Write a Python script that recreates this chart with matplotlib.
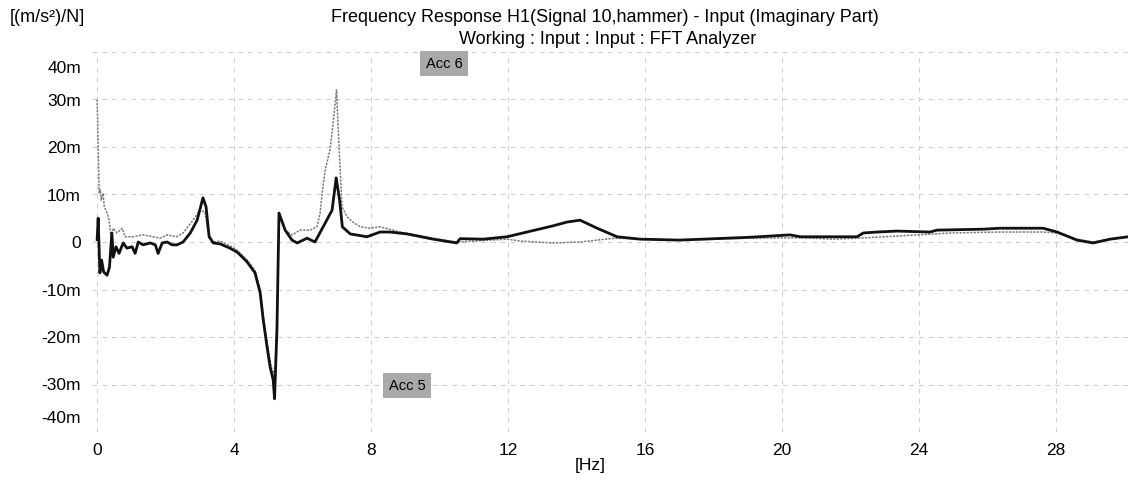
import matplotlib.pyplot as plt
from matplotlib.ticker import FuncFormatter
from matplotlib.transforms import ScaledTranslation

plt.rcParams['font.family'] = ['Liberation Sans', 'DejaVu Sans']

# Acc 5 (thick black) - frequency [Hz], imaginary part [m(m/s^2)/N]
acc5_freq = [0.0, 0.03, 0.08, 0.13, 0.19, 0.29, 0.36, 0.43, 0.47, 0.55, 0.64, 0.76, 0.87,
             1.02, 1.11, 1.2, 1.34, 1.55, 1.7, 1.78, 1.9, 2.04, 2.19, 2.33, 2.51, 2.72,
             2.92, 3.09, 3.18, 3.27, 3.39, 3.59, 3.88, 4.1, 4.38, 4.61, 4.76, 4.85, 4.96,
             5.05, 5.14, 5.18, 5.25, 5.31, 5.49, 5.69, 5.84, 6.13, 6.36, 6.6, 6.86, 6.98,
             7.08, 7.16, 7.39, 7.88, 8.26, 8.55, 9.05, 9.81, 10.5, 10.6, 11.27, 11.97,
             12.55, 13.31, 13.72, 14.1, 14.6, 15.18, 15.85, 17.0, 19.07, 20.23, 20.53,
             22.19, 22.37, 22.77, 23.36, 24.32, 24.52, 25.87, 26.36, 27.62, 28.03, 28.61,
             29.08, 29.58, 30.1]
acc5_val = [0.5, 5.0, -6.5, -3.8, -6.3, -7.0, -5.3, 1.9, -3.2, -1.0, -2.4, -0.2, -1.3,
            -1.0, -2.4, 0.0, -0.6, -0.2, -0.6, -2.4, -0.2, 0.0, -0.6, -0.6, 0.0, 1.9,
            4.6, 9.3, 7.4, 1.1, -0.2, -0.4, -1.3, -2.2, -4.2, -6.5, -10.7, -16.4, -22.0,
            -26.3, -29.0, -33.0, -18.5, 6.1, 2.5, 0.4, -0.2, 0.8, 0.0, 3.2, 6.7, 13.5,
            8.8, 3.2, 1.7, 1.1, 2.1, 2.1, 1.7, 0.6, -0.2, 0.7, 0.6, 1.1,
            2.1, 3.4, 4.2, 4.6, 2.9, 1.1, 0.6, 0.4, 1.0, 1.5, 1.1,
            1.1, 1.9, 2.1, 2.3, 2.1, 2.5, 2.7, 2.9, 2.9, 2.1, 0.4,
            -0.2, 0.6, 1.1]

# Acc 6 (thin grey)
acc6_freq = [0.0, 0.03, 0.06, 0.09, 0.12, 0.17, 0.21, 0.29, 0.35, 0.41, 0.47, 0.58, 0.73,
             0.82, 1.05, 1.34, 1.64, 1.84, 2.04, 2.33, 2.51, 2.8, 3.0, 3.15, 3.24, 3.39,
             3.59, 3.88, 4.1, 4.38, 4.61, 4.76, 4.85, 4.96, 5.05, 5.14, 5.2, 5.26, 5.31,
             5.49, 5.69, 5.93, 6.22, 6.42, 6.51, 6.58, 6.66, 6.8, 6.9, 6.99, 7.04, 7.15,
             7.3, 7.47, 7.68, 7.97, 8.26, 8.85, 9.81, 10.5, 11.97, 12.35, 13.31, 14.1,
             15.1, 17.0, 19.07, 20.5, 21.5, 22.2, 22.97, 23.96, 24.92, 26.36, 27.62,
             28.03, 28.61, 29.08, 29.58, 30.1]
acc6_val = [30.0, 20.0, 10.3, 11.0, 8.8, 10.3, 7.4, 6.1, 4.6, 0.4, 2.9, 1.9, 2.9,
            1.1, 1.1, 1.5, 1.1, 0.8, 1.5, 1.1, 1.9, 4.6, 6.7, 6.3, 1.9, 0.0,
            0.2, -0.8, -1.8, -3.8, -6.0, -10.0, -15.5, -21.0, -25.0, -28.0, -26.0, -15.0, 5.5,
            2.5, 1.5, 2.5, 2.5, 3.2, 6.1, 10.9, 15.2, 19.4, 25.7, 32.0, 23.6, 7.4,
            5.3, 4.2, 3.2, 2.9, 3.2, 2.1, 0.8, 0.0, 0.6, 0.2, -0.2, 0.0,
            0.8, 0.4, 0.8, 0.9, 0.6, 0.8, 1.1, 1.5, 1.9, 2.1, 2.1,
            1.9, 0.6, 0.0, 0.6, 1.1]

x_ticks = [0, 4, 8, 12, 16, 20, 24, 28]
y_ticks = [-40, -30, -20, -10, 0, 10, 20, 30, 40]

fig = plt.figure(figsize=(11.32, 4.86), dpi=100)
ax = fig.add_axes([92 / 1132, 1 - 432 / 486, 1036 / 1132, 380 / 486])

ax.plot(acc6_freq, acc6_val, color="#7c7c7c", lw=1.1, linestyle=(0, (1.5, 0.8)))
ax.plot(acc5_freq, acc5_val, color="#111111", lw=2.0)

ax.set_xlim(-0.15, 30.1)
ax.set_ylim(-40, 40)
ax.set_xticks(x_ticks)
ax.set_yticks(y_ticks)
ax.yaxis.set_major_formatter(FuncFormatter(lambda v, p: "0" if v == 0 else f"{int(v)}m"))
ax.tick_params(length=0, labelsize=12.5, pad=8)
ax.grid(True, color="#cfcfcf", lw=0.7, linestyle=(0, (5, 5)))
for s in ax.spines.values():
    s.set_visible(False)

# outer y labels sit a bit inside the plot area, like the printout
ylabels = ax.get_yticklabels()
ylabels[0].set_transform(ylabels[0].get_transform() + ScaledTranslation(0, 0.15, fig.dpi_scale_trans))
ylabels[-1].set_transform(ylabels[-1].get_transform() + ScaledTranslation(0, -0.15, fig.dpi_scale_trans))

# curve labels
box = dict(facecolor="#a9a9a9", edgecolor="none", pad=4)
ax.text(10.13, 37.5, "Acc 6", fontsize=10.5, ha="center", va="center", bbox=box)
ax.text(9.05, -30.3, "Acc 5", fontsize=10.5, ha="center", va="center", bbox=box)

fig.text(605 / 1132, 1 - 17 / 486, "Frequency Response H1(Signal 10,hammer) - Input (Imaginary Part)",
         ha="center", va="center", fontsize=13)
fig.text(608 / 1132, 1 - 40 / 486, "Working : Input : Input : FFT Analyzer",
         ha="center", va="center", fontsize=13)
fig.text(10 / 1132, 1 - 17 / 486, "[(m/s²)/N]", ha="left", va="center", fontsize=13)
fig.text(590 / 1132, 1 - 465 / 486, "[Hz]", ha="center", va="center", fontsize=12.5)

fig.savefig("out.png", dpi=100)
